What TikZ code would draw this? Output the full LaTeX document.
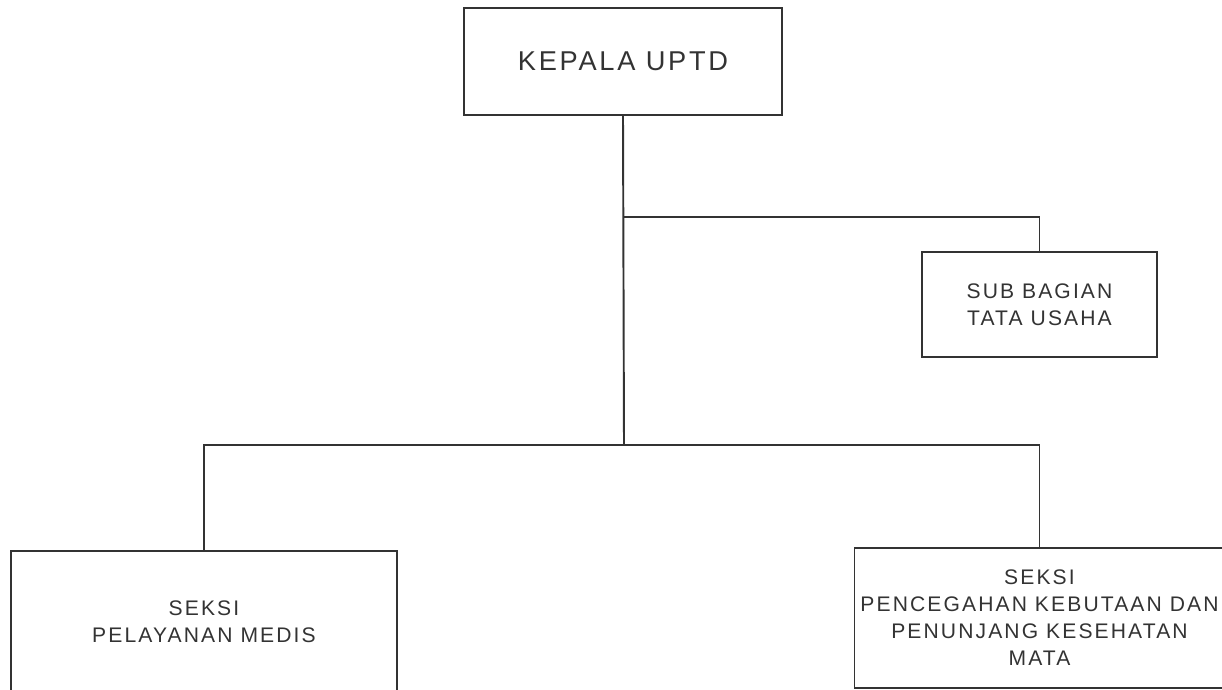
\documentclass[tikz,border=0pt]{standalone}
\usepackage{fontspec}
\setmainfont{Liberation Sans}[LetterSpace=10]
\definecolor{ink}{HTML}{333333}

\tikzstyle{unit}=[rectangle,draw=ink,line width=1.1pt,text=ink,inner sep=0pt,align=center,font=\fontsize{12}{15.4}\selectfont]
\tikzstyle{link}=[draw=ink,line width=1.1pt]

\begin{document}
\begin{tikzpicture}
  \useasboundingbox (0,0) rectangle (24.44,-13.8);
  \clip (0,0) rectangle (24.44,-13.8);

  \node[unit,minimum width=6.36cm,minimum height=2.14cm,font=\fontsize{15.5}{18}\selectfont] (kepala) at (12.46,-1.23) {KEPALA UPTD};
  \node[unit,minimum width=4.7cm,minimum height=2.1cm] (tu) at (20.79,-6.09) {SUB BAGIAN\\TATA USAHA};
  \node[unit,minimum width=7.72cm,minimum height=2.84cm] (medis) at (4.08,-12.44) {SEKSI\\PELAYANAN MEDIS};
  \node[unit,minimum width=7.4cm,minimum height=2.8cm] (mata) at (20.79,-12.36) {SEKSI\\PENCEGAHAN KEBUTAAN DAN\\PENUNJANG KESEHATAN\\MATA};

  \coordinate (j1) at (12.48,-4.34);
  \coordinate (j2) at (12.48,-8.9);

  \draw[link] (kepala.south) -- (j2);
  \draw[link] (j1) -| (tu.north);
  \draw[link] (medis.north) |- (j2) -| (mata.north);
\end{tikzpicture}
\end{document}
